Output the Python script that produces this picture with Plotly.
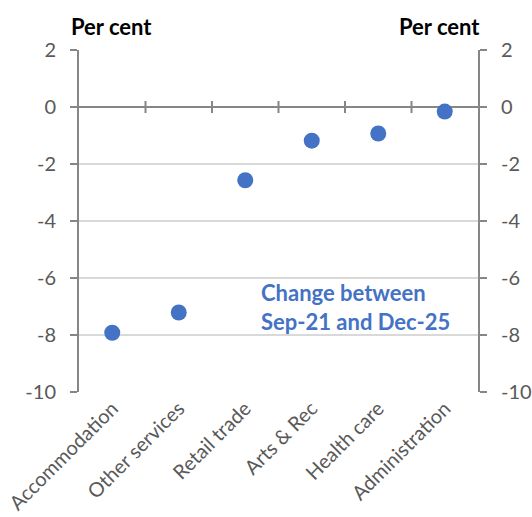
import plotly.graph_objects as go

# Industry employment change, per cent
industries = ["Accommodation", "Other services", "Retail trade", "Arts & Rec",
              "Health care", "Administration"]
change_pct = [-7.92, -7.21, -2.57, -1.18, -0.93, -0.16]
y_ticks = [2, 0, -2, -4, -6, -8, -10]

AXIS_GREY = "#868686"
GRID_GREY = "#D9D9D9"
TEXT_GREY = "#595959"
BLUE = "#4472C4"
FONT = "Lato"

fig = go.Figure()
fig.add_trace(go.Scatter(
    x=industries, y=change_pct, mode="markers",
    marker=dict(color=BLUE, size=16, line=dict(width=0)),
    showlegend=False, hoverinfo="x+y",
))
# invisible copy on the right-hand axis so it gets drawn
fig.add_trace(go.Scatter(
    x=industries, y=change_pct, yaxis="y2", mode="markers",
    marker=dict(opacity=0), showlegend=False, hoverinfo="skip",
))

yaxis_common = dict(
    range=[-10, 2], tickvals=y_ticks, ticktext=[str(v) for v in y_ticks],
    showline=True, linecolor=AXIS_GREY, linewidth=2,
    ticks="outside", ticklen=7, tickwidth=2, tickcolor=AXIS_GREY,
    tickfont=dict(family=FONT, size=20, color=TEXT_GREY),
    fixedrange=True, automargin=False,
)

fig.update_layout(
    width=532, height=517,
    margin=dict(l=79, r=54, t=50, b=125, autoexpand=False),
    paper_bgcolor="white", plot_bgcolor="white",
    font=dict(family=FONT),
    xaxis=dict(
        type="category", range=[-0.5, len(industries) - 0.5],
        showline=False, showgrid=False, ticks="", zeroline=False,
        tickangle=-45, tickfont=dict(family=FONT, size=20, color=TEXT_GREY),
        fixedrange=True, automargin=False,
    ),
    yaxis=dict(
        **yaxis_common, side="left",
        showgrid=True, gridcolor=GRID_GREY, gridwidth=1.5,
        zeroline=True, zerolinecolor=AXIS_GREY, zerolinewidth=2,
        ticklabelstandoff=10,
    ),
    yaxis2=dict(
        **yaxis_common, side="right", overlaying="y",
        showgrid=False, zeroline=False, ticklabelstandoff=10,
    ),
)

# category divider ticks crossing the zero line
shapes = []
for i in range(len(industries) - 1):
    shapes.append(dict(
        type="line", xref="x", yref="y", x0=i + 0.5, x1=i + 0.5,
        ysizemode="pixel", yanchor=0, y0=-6, y1=6,
        line=dict(color=AXIS_GREY, width=2),
    ))
fig.update_layout(shapes=shapes)

fig.add_annotation(
    text="<b>Per cent</b>", xref="paper", yref="paper",
    x=-0.025, y=1.022, xanchor="left", yanchor="bottom", showarrow=False,
    font=dict(family=FONT, size=22, color="black"),
)
fig.add_annotation(
    text="<b>Per cent</b>", xref="paper", yref="paper",
    x=1.01, y=1.022, xanchor="right", yanchor="bottom", showarrow=False,
    font=dict(family=FONT, size=22, color="black"),
)
fig.add_annotation(
    text="<b>Change between<br>Sep-21 and Dec-25</b>", xref="paper", yref="paper",
    x=0.452, y=0.337, xanchor="left", yanchor="top", align="left",
    showarrow=False, font=dict(family=FONT, size=22, color=BLUE),
)

fig.write_html("out.html")
